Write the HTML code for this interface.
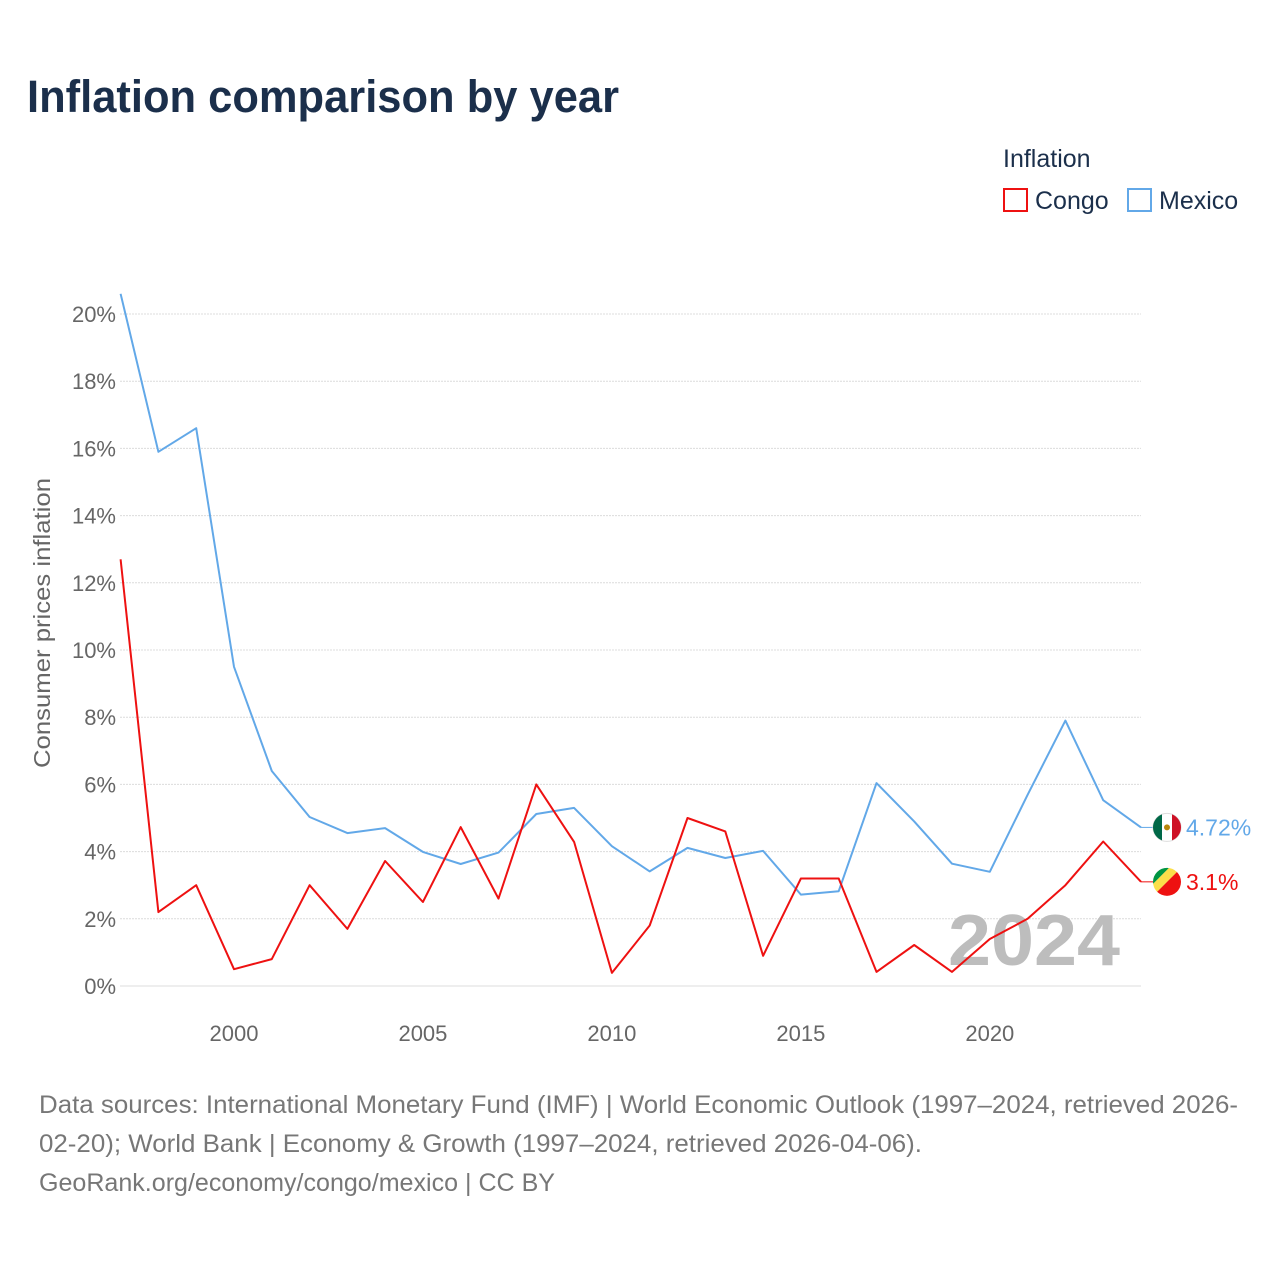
<!DOCTYPE html>
<html><head><meta charset="utf-8">
<style>
body{margin:0;background:#fff;font-family:"Liberation Sans",sans-serif;}
#wrap{position:relative;width:1280px;height:1280px;overflow:hidden;}
</style></head>
<body>
<div id="wrap">
<svg id="chart" width="1280" height="1280"></svg>
</div>
<script>
const years = [1997,1998,1999,2000,2001,2002,2003,2004,2005,2006,2007,2008,2009,2010,2011,2012,2013,2014,2015,2016,2017,2018,2019,2020,2021,2022,2023,2024];
const mexico = [20.6,15.9,16.6,9.5,6.4,5.03,4.55,4.7,3.99,3.63,3.97,5.12,5.3,4.16,3.41,4.11,3.81,4.02,2.72,2.82,6.04,4.9,3.64,3.4,5.69,7.9,5.53,4.72];
const congo = [12.7,2.2,3.0,0.5,0.8,3.0,1.7,3.72,2.5,4.73,2.6,6.0,4.29,0.39,1.8,5.0,4.6,0.9,3.2,3.2,0.42,1.22,0.42,1.4,2.0,3.0,4.3,3.1];
const yTicks = [0,2,4,6,8,10,12,14,16,18,20];
const xTicks = [2000,2005,2010,2015,2020];

const NS="http://www.w3.org/2000/svg";
const svg=document.getElementById('chart');
const X=y=>120.6+(y-1997)*(1141-120.6)/27;
const Y=v=>986-v*33.6;
function el(t,a,txt){const e=document.createElementNS(NS,t);for(const k in a)e.setAttribute(k,a[k]);if(txt!=null)e.textContent=txt;svg.appendChild(e);return e;}

let e;
e=el('text',{x:27,y:112,'font-size':45,'font-weight':'bold',fill:'#1b2f4b',textLength:592,lengthAdjust:'spacingAndGlyphs'},'Inflation comparison by year');



yTicks.forEach(t=>{
  e=el('line',{x1:120,x2:1141,y1:Y(t),y2:Y(t),stroke:'#dcdcdc','stroke-width':1,'stroke-dasharray':t===0?'':'2,1'});
  
  
  e=el('text',{x:116,y:Y(t)+8,'text-anchor':'end','font-size':22,fill:'#666'},t+'%');
  
  
});
xTicks.forEach(t=>{
  e=el('text',{x:X(t),y:1041,'text-anchor':'middle','font-size':22,fill:'#666'},String(t));
  
  
});
e=el('text',{x:50,y:623,'text-anchor':'middle','font-size':23,fill:'#666',transform:'rotate(-90 50 623)',textLength:290,lengthAdjust:'spacingAndGlyphs'},'Consumer prices inflation');



e=el('text',{x:948,y:965,'font-size':72,'font-weight':'bold',fill:'#bdbdbd',textLength:172,lengthAdjust:'spacingAndGlyphs'},'2024');



function line(data,color,name){
  const d=data.map((v,i)=>(i?'L':'M')+X(years[i]).toFixed(1)+','+Y(v).toFixed(1)).join('');
  const p=el('path',{d:d,fill:'none',stroke:color,'stroke-width':2,'stroke-linejoin':'round'});
  
  
}
line(mexico,'#62a8e8','mexico-line');
line(congo,'#ee1111','congo-line');

const lm=mexico[mexico.length-1], lc=congo[congo.length-1];
e=el('line',{x1:1141,x2:1153,y1:Y(lm),y2:Y(lm),stroke:'#62a8e8','stroke-width':1});


e=el('line',{x1:1141,x2:1153,y1:Y(lc),y2:Y(lc),stroke:'#ee1111','stroke-width':1});


let fx=1167, fy=Y(lm);
e=el('circle',{cx:fx,cy:fy,r:14,fill:'#fff',stroke:'#ddd'});


e=el('path',{d:`M${fx-14},${fy} A14,14 0 0 1 ${fx-5},${fy-13} L${fx-5},${fy+13} A14,14 0 0 1 ${fx-14},${fy}Z`,fill:'#006847'});


e=el('path',{d:`M${fx+14},${fy} A14,14 0 0 0 ${fx+5},${fy-13} L${fx+5},${fy+13} A14,14 0 0 0 ${fx+14},${fy}Z`,fill:'#ce1126'});


e=el('circle',{cx:fx,cy:fy,r:3,fill:'#b8860b'});


fx=1167; fy=Y(lc);
e=el('defs',{});
const cp=document.createElementNS(NS,'clipPath');cp.setAttribute('id','cc');
const cc=document.createElementNS(NS,'circle');cc.setAttribute('cx',fx);cc.setAttribute('cy',fy);cc.setAttribute('r',14);cp.appendChild(cc);e.appendChild(cp);
const g=el('g',{'clip-path':'url(#cc)'});


[['#ee1111',`M${fx+20},${fy-20}L${fx+20},${fy+20}L${fx-20},${fy+20}Z`],['#fbde4a',`M${fx+8},${fy-20}L${fx+20},${fy-20}L${fx-20},${fy+20}L${fx-20},${fy+8}Z`],['#009543',`M${fx-20},${fy-20}L${fx+8},${fy-20}L${fx-20},${fy+8}Z`]].forEach(([c,d])=>{const p=document.createElementNS(NS,'path');p.setAttribute('d',d);p.setAttribute('fill',c);g.appendChild(p);});

e=el('text',{x:1186,y:Y(lm)+8,'font-size':23,fill:'#62a8e8'},lm+'%');


e=el('text',{x:1186,y:Y(lc)+8,'font-size':23,fill:'#ee1111'},lc+'%');



e=el('text',{x:1003,y:167,'font-size':25,fill:'#1b2f4b'},'Inflation');


e=el('rect',{x:1004,y:189,width:23,height:22,fill:'none',stroke:'#ee1111','stroke-width':2});


e=el('text',{x:1035,y:209,'font-size':25,fill:'#1b2f4b'},'Congo');


e=el('rect',{x:1128,y:189,width:23,height:22,fill:'none',stroke:'#62a8e8','stroke-width':2});


e=el('text',{x:1159,y:209,'font-size':25,fill:'#1b2f4b'},'Mexico');



[['Data sources: International Monetary Fund (IMF) | World Economic Outlook (1997–2024, retrieved 2026-',1113,1199],
 ['02-20); World Bank | Economy & Growth (1997–2024, retrieved 2026-04-06).',1152,883],
 ['GeoRank.org/economy/congo/mexico | CC BY',1191,516]].forEach(([t,y,w])=>{
  e=el('text',{x:39,y:y,'font-size':25,fill:'#777',textLength:w,lengthAdjust:'spacingAndGlyphs'},t);
  
  
});
</script>
</body></html>
